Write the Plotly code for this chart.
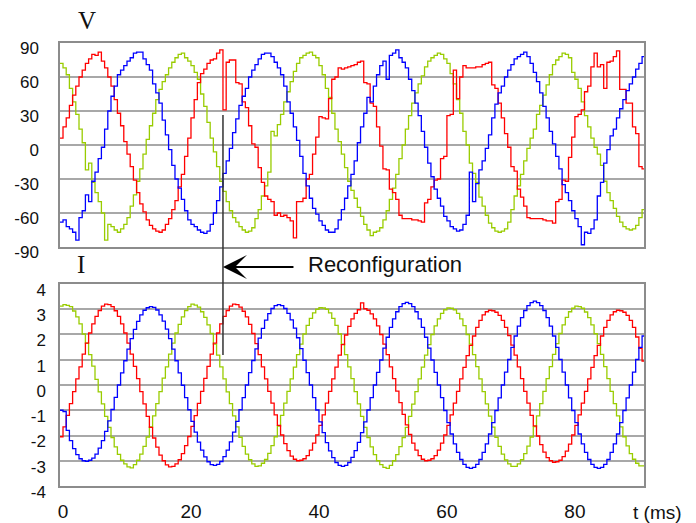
import plotly.graph_objects as go

# Sampling grid of the recorded waveforms (ms)
T0_MS = -0.5
DT_MS = 0.5
RECONF_MS = 25.0

# Phase voltages (V), one value per sample
V_red = [
    6, 16, 24, 35, 44, 52, 60, 66, 72, 76,
    80, 79, 82, 74, 68, 60, 52, 40, 28, 17,
    3, -8, -19, -31, -42, -52, -59, -66, -71, -74,
    -76, -77, -75, -70, -65, -57, -49, -37, -26, -10,
    6, 24, 40, 55, 63, 67, 72, 75, 76, 81,
    84, 31, 73, 75, 75, 55, 54, 38, 33, 17,
    1, -2, -20, -33, -45, -48, -50, -62, -60, -63,
    -62, -64, -67, -82, -50, -50, -47, -30, -26, -8,
    7, 25, 24, 23, 41, 58, 60, 68, 67, 68,
    69, 70, 71, 73, 74, 55, 54, 37, 34, 16,
    -1, -21, -22, -39, -42, -48, -62, -65, -65, -65,
    -66, -66, -67, -68, -51, -48, -37, -31, -30, -12,
    -10, 26, 27, 66, 41, 60, 70, 68, 68, 68,
    69, 69, 71, 72, 73, 53, 50, 37, 24, 10,
    -2, -19, -23, -39, -46, -54, -64, -65, -65, -65,
    -65, -66, -67, -67, -69, -50, -48, -31, -32, -11,
    7, 25, 27, 31, 47, 52, 69, 81, 69, 71,
    50, 73, 74, 78, 83, 49, 49, 37, 37, 16,
    10, -19, -21, -21,
]
V_green = [
    72, 68, 62, 50, 38, 27, 14, 2, -22, -16,
    -33, -42, -50, -60, -84, -70, -72, -75, -77, -74,
    -70, -64, -54, -44, -32, -21, -8, 5, 17, 28,
    40, 49, 56, 62, 68, 73, 77, 80, 81, 77,
    74, 70, 64, 58, 45, 34, 20, 6, -6, -19,
    -32, -41, -50, -58, -64, -68, -72, -75, -77, -76,
    -73, -65, -57, -45, -36, -24, 12, 8, 18, 27,
    38, 47, 56, 65, 72, 77, 79, 81, 82, 79,
    77, 70, 62, 50, 42, 28, 14, 3, -8, -20,
    -32, -40, -47, -55, -63, -70, -75, -80, -77, -76,
    -73, -66, -58, -48, -38, -26, -12, 0, 14, 26,
    37, 46, 54, 61, 69, 74, 77, 79, 81, 80,
    76, 72, 63, 54, 40, 28, 12, 0, -16, -25,
    -33, -46, -54, -62, -69, -73, -76, -77, -76, -74,
    -68, -57, -45, -36, -26, -14, -3, 6, 14, 27,
    35, 44, 53, 62, 71, 75, 78, 81, 80, 77,
    64, 58, 50, 38, 26, 16, 6, -2, -8, -18,
    -32, -42, -49, -56, -63, -68, -72, -74, -75, -74,
    -71, -64, -57, -52,
]
V_blue = [
    -68, -66, -72, -74, -77, -84, -64, -58, -44, -50,
    -32, -24, -12, -2, 14, 30, 43, 52, 62, 66,
    70, 74, 77, 81, 82, 82, 76, 71, 66, 54,
    46, 37, 22, 9, -4, -18, -30, -38, -48, -58,
    -66, -70, -72, -75, -77, -78, -76, -70, -60, -49,
    -37, -25, -14, -3, 11, 23, 35, 43, 50, 60,
    66, 71, 76, 80, 81, 81, 78, 73, 68, 62,
    52, 38, 28, 16, 4, -10, -25, -36, -47, -56,
    -61, -67, -71, -75, -77, -77, -74, -66, -57, -47,
    -36, -26, -14, 2, 16, 28, 42, 38, 52, 62,
    70, 74, 58, 79, 81, 84, 77, 73, 68, 58,
    48, 37, 26, 12, -2, -16, -28, -39, -47, -54,
    -63, -67, -72, -74, -76, -75, -70, -62, -24, -50,
    -34, -22, -14, -3, 9, 24, 36, 46, 52, 60,
    66, 71, 76, 78, 80, 82, 78, 72, 64, 56,
    46, 34, 24, 12, 1, -10, -21, -35, -42, -49,
    -58, -65, -72, -88, -77, -78, -74, -66, -45, -33,
    -16, -4, 8, 14, 24, 32, 40, 48, 54, 60,
    67, 72, 78, 79,
]

# Phase currents (A), one value per sample
I_red = [
    -2.05, -1.66, -1.20, -0.74, -0.26, 0.24, 0.72, 1.22, 1.66, 2.06,
    2.42, 2.72, 2.95, 3.12, 3.20, 3.18, 3.10, 2.94, 2.72, 2.42,
    2.06, 1.66, 1.22, 0.74, 0.25, -0.26, -0.75, -1.24, -1.68, -2.10,
    -2.46, -2.78, -3.00, -3.16, -3.24, -3.22, -3.12, -2.96, -2.72, -2.40,
    -2.04, -1.64, -1.21, -0.73, -0.25, 0.26, 0.74, 1.22, 1.66, 2.06,
    2.42, 2.72, 2.95, 3.12, 3.20, 3.18, 3.08, 2.92, 2.70, 2.40,
    2.04, 1.64, 1.20, 0.72, 0.24, -0.25, -0.72, -1.18, -1.60, -1.98,
    -2.32, -2.60, -2.82, -2.94, -3.00, -2.98, -2.92, -2.80, -2.58, -2.30,
    -1.98, -1.60, -1.18, -0.72, -0.25, 0.24, 0.71, 1.18, 1.60, 1.98,
    2.32, 2.62, 2.84, 2.98, 3.25, 3.02, 2.96, 2.82, 2.62, 2.34,
    2.00, 1.62, 1.20, 0.72, 0.25, -0.24, -0.70, -1.16, -1.58, -1.96,
    -2.30, -2.58, -2.80, -2.94, -3.00, -2.98, -2.92, -2.80, -2.58, -2.30,
    -1.98, -1.60, -1.18, -0.72, -0.25, 0.24, 0.70, 1.16, 1.57, 1.94,
    2.28, 2.56, 2.78, 2.90, 2.96, 2.94, 2.88, 2.76, 2.56, 2.28,
    1.96, 1.58, 1.18, 0.72, 0.25, -0.25, -0.72, -1.20, -1.62, -2.02,
    -2.36, -2.66, -2.88, -3.00, -3.06, -3.04, -2.98, -2.84, -2.62, -2.34,
    -1.98, -1.60, -1.18, -0.72, -0.25, 0.24, 0.70, 1.16, 1.57, 1.94,
    2.28, 2.56, 2.78, 2.90, 2.96, 2.94, 2.88, 2.76, 2.56, 2.28,
    1.90, 1.45, 0.95, 0.55,
]
I_green = [
    3.12, 3.18, 3.15, 3.10, 2.93, 2.70, 2.42, 2.02, 1.66, 1.20,
    0.75, 0.22, -0.27, -0.75, -1.24, -1.68, -2.08, -2.45, -2.75, -2.98,
    -3.12, -3.24, -3.28, -3.15, -2.98, -2.74, -2.43, -2.06, -1.66, -1.22,
    -0.74, -0.26, 0.27, 0.72, 1.22, 1.66, 2.06, 2.40, 2.70, 2.95,
    3.10, 3.20, 3.16, 3.08, 2.90, 2.68, 2.38, 2.04, 1.62, 1.18,
    0.72, 0.24, -0.27, -0.74, -1.22, -1.66, -2.07, -2.43, -2.74, -2.96,
    -3.12, -3.22, -3.20, -3.10, -2.95, -2.71, -2.40, -2.05, -1.63, -1.20,
    -0.72, -0.25, 0.24, 0.71, 1.20, 1.62, 2.02, 2.36, 2.64, 2.86,
    3.00, 3.06, 3.05, 3.00, 2.86, 2.64, 2.36, 2.02, 1.62, 1.20,
    0.72, 0.25, -0.26, -0.75, -1.24, -1.68, -2.08, -2.45, -2.76, -3.00,
    -3.15, -3.26, -3.30, -3.18, -3.00, -2.76, -2.44, -2.08, -1.68, -1.24,
    -0.76, -0.26, 0.24, 0.71, 1.18, 1.60, 2.00, 2.34, 2.62, 2.84,
    2.98, 3.05, 3.04, 2.98, 2.84, 2.62, 2.35, 2.00, 1.62, 1.20,
    0.73, 0.24, -0.26, -0.75, -1.23, -1.67, -2.07, -2.43, -2.74, -2.97,
    -3.12, -3.22, -3.22, -3.12, -2.96, -2.72, -2.42, -2.06, -1.65, -1.22,
    -0.74, -0.25, 0.25, 0.73, 1.21, 1.64, 2.04, 2.38, 2.68, 2.90,
    3.04, 3.12, 3.10, 3.04, 2.89, 2.67, 2.38, 2.03, 1.64, 1.21,
    0.73, 0.25, -0.25, -0.74, -1.22, -1.66, -2.05, -2.41, -2.72, -2.94,
    -3.10, -3.20, -3.20, -3.12,
]
I_blue = [
    -1.00, -1.05, -1.80, -2.20, -2.52, -2.76, -2.92, -3.00, -3.02, -2.98,
    -2.90, -2.74, -2.50, -2.20, -1.84, -1.42, -0.97, -0.49, 0.00, 0.48,
    0.96, 1.42, 1.84, 2.20, 2.52, 2.78, 2.96, 3.06, 3.10, 3.07,
    2.97, 2.78, 2.53, 2.21, 1.84, 1.42, 0.96, 0.48, -0.01, -0.50,
    -0.98, -1.44, -1.87, -2.26, -2.58, -2.85, -3.04, -3.15, -3.18, -3.14,
    -3.03, -2.84, -2.58, -2.25, -1.87, -1.44, -0.98, -0.50, 0.00, 0.49,
    0.97, 1.43, 1.86, 2.24, 2.57, 2.83, 3.03, 3.14, 3.18, 3.14,
    3.03, 2.84, 2.58, 2.25, 1.87, 1.44, 0.98, 0.49, 0.00, -0.50,
    -0.99, -1.46, -1.89, -2.28, -2.61, -2.88, -3.07, -3.18, -3.22, -3.18,
    -3.07, -2.87, -2.60, -2.27, -1.89, -1.46, -0.99, -0.50, 0.00, 0.50,
    0.99, 1.46, 1.89, 2.28, 2.62, 2.90, 3.10, 3.22, 3.27, 3.22,
    3.10, 2.90, 2.62, 2.28, 1.89, 1.46, 0.99, 0.50, 0.00, -0.50,
    -1.01, -1.49, -1.94, -2.33, -2.67, -2.95, -3.14, -3.26, -3.30, -3.26,
    -3.14, -2.95, -2.67, -2.33, -1.94, -1.49, -1.01, -0.51, 0.00, 0.51,
    1.01, 1.49, 1.94, 2.33, 2.67, 2.95, 3.14, 3.26, 3.32, 3.26,
    3.14, 2.95, 2.67, 2.33, 1.94, 1.49, 1.01, 0.51, 0.00, -0.51,
    -1.01, -1.49, -1.94, -2.33, -2.67, -2.95, -3.14, -3.26, -3.30, -3.26,
    -3.14, -2.95, -2.67, -2.33, -1.94, -1.49, -1.01, -0.51, 0.00, 0.51,
    1.01, 1.49, 1.94, 2.33,
]

# Axis ticks
T_TICKS = [0, 20, 40, 60, 80]
V_TICKS = [-90, -60, -30, 0, 30, 60, 90]
I_TICKS = [-4, -3, -2, -1, 0, 1, 2, 3, 4]

RED = "#ff0000"
GREEN = "#99cc00"
BLUE = "#0000ff"
GRID = "#a8a8a8"
FRAME = "#8c8c8c"
SANS = "Liberation Sans, Arial, sans-serif"
SERIF = "Liberation Serif, Times New Roman, serif"


def times(series):
    return [T0_MS + DT_MS * i for i in range(len(series))]


fig = go.Figure()

for values, color in ((V_green, GREEN), (V_red, RED), (V_blue, BLUE)):
    fig.add_trace(go.Scatter(
        x=times(values), y=values, xaxis="x", yaxis="y", mode="lines",
        line=dict(color=color, width=1.3, shape="hv"), showlegend=False,
        hoverinfo="skip"))

for values, color in ((I_green, GREEN), (I_red, RED), (I_blue, BLUE)):
    fig.add_trace(go.Scatter(
        x=times(values), y=values, xaxis="x2", yaxis="y2", mode="lines",
        line=dict(color=color, width=1.3, shape="hv"), showlegend=False,
        hoverinfo="skip"))

x_common = dict(range=[-0.47, 90.8], tickvals=T_TICKS, showgrid=False,
                zeroline=False, showline=True, mirror=True, linecolor=FRAME,
                linewidth=1.5, ticks="")
y_common = dict(showgrid=True, gridcolor=GRID, gridwidth=1.5, zeroline=False,
                showline=True, mirror=True, linecolor=FRAME, linewidth=1.5,
                ticks="", tickfont=dict(family=SANS, size=17, color="#111"))

fig.update_layout(
    width=696, height=523,
    margin=dict(l=60, r=52, t=43, b=37, autoexpand=False),
    paper_bgcolor="white", plot_bgcolor="white",
    xaxis=dict(**x_common, anchor="y", showticklabels=False),
    xaxis2=dict(**x_common, anchor="y2", ticktext=[str(v) for v in T_TICKS],
                tickfont=dict(family=SANS, size=19, color="#111"),
                ticklabelstandoff=7),
    yaxis=dict(**y_common, domain=[0.5395, 1.0], anchor="x", range=[-90, 90],
               tickvals=V_TICKS, ticktext=[str(v) for v in V_TICKS],
               ticklabelstandoff=16, ticklabelshift=5),
    yaxis2=dict(**y_common, domain=[0.0, 0.456], anchor="x2", range=[-4, 4],
                tickvals=I_TICKS, ticktext=[str(v) for v in I_TICKS],
                ticklabelstandoff=9, ticklabelshift=6),
)

# Marker of the reconfiguration instant, spanning both panels
fig.add_shape(type="line", xref="x2", yref="paper", x0=RECONF_MS, x1=RECONF_MS,
              y0=0.2957, y1=0.8375, line=dict(color="#333333", width=1.5),
              layer="above")

fig.add_annotation(xref="x2", yref="paper", x=RECONF_MS, y=0.4944, text="",
                   showarrow=True, arrowhead=3, arrowsize=2, arrowwidth=2,
                   arrowcolor="black", ax=72, ay=0, axref="pixel", ayref="pixel")
fig.add_annotation(xref="paper", yref="paper", x=0.4212, y=0.4989,
                   text="Reconfiguration", showarrow=False, xanchor="left",
                   yanchor="middle", font=dict(family=SANS, size=22, color="#111"))

fig.add_annotation(xref="paper", yref="paper", x=0.0462, y=1.0497, text="V",
                   showarrow=False, xanchor="center", yanchor="middle",
                   font=dict(family=SERIF, size=25, color="#111"))
fig.add_annotation(xref="paper", yref="paper", x=0.036, y=0.501, text="I",
                   showarrow=False, xanchor="center", yanchor="middle",
                   font=dict(family=SERIF, size=25, color="#111"))
fig.add_annotation(xref="paper", yref="paper", x=1.0223, y=-0.0587, text="t (ms)",
                   showarrow=False, xanchor="center", yanchor="middle",
                   font=dict(family=SANS, size=19, color="#111"))

fig.write_html("out.html")
